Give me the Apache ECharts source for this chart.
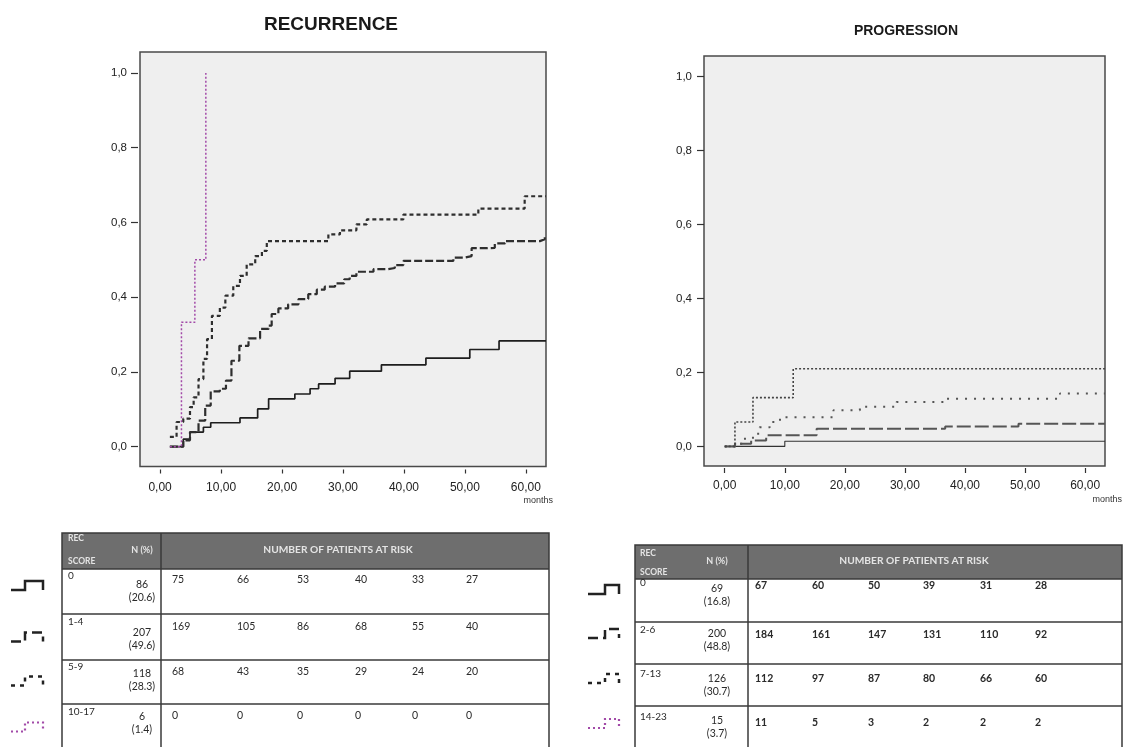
<!DOCTYPE html>
<html>
<head>
<meta charset="utf-8">
<script src="https://cdn.jsdelivr.net/npm/echarts@6/dist/echarts.min.js"></script>
<style>
html,body{margin:0;padding:0;background:#fff;}
#chart{width:1125px;height:747px;}
</style>
</head>
<body>
<div id="chart"></div>
<script>
// ---------------- DATA ----------------
const xTicks = [0, 10, 20, 30, 40, 50, 60];
const yTicks = [0, 0.2, 0.4, 0.6, 0.8, 1.0];

// Recurrence cumulative incidence [months, value]
const rec_score0 = [[1.6,0],[3.8,0.02],[4.9,0.039],[7.1,0.052],[8.3,0.064],[13.1,0.077],[16,0.101],[17.8,0.128],[22.1,0.141],[24.6,0.155],[26,0.168],[28.7,0.183],[31.1,0.202],[36.3,0.219],[43.6,0.237],[50.8,0.26],[55.6,0.283],[63.3,0.283]];
const rec_score1_4 = [[1.6,0],[3.8,0.017],[4.9,0.039],[6.3,0.07],[7.4,0.11],[8.3,0.148],[9.8,0.155],[10.8,0.177],[11.7,0.23],[13.0,0.27],[14.5,0.29],[16.4,0.315],[17.8,0.324],[18.3,0.355],[19.4,0.37],[21.0,0.381],[22.7,0.395],[24.3,0.408],[25.7,0.42],[27.0,0.428],[28.7,0.437],[30.2,0.448],[31.1,0.457],[32.2,0.468],[35.0,0.475],[37.4,0.478],[38.5,0.486],[39.9,0.497],[48.1,0.506],[50.0,0.51],[51.1,0.531],[53.6,0.532],[54.9,0.544],[56.6,0.55],[62.3,0.555],[63.1,0.564],[63.3,0.564]];
const rec_score5_9 = [[1.6,0.026],[2.7,0.066],[3.8,0.075],[4.9,0.106],[5.5,0.132],[6.3,0.181],[7.1,0.235],[7.7,0.288],[8.5,0.35],[9.8,0.372],[10.7,0.404],[12.0,0.43],[13.1,0.457],[14.2,0.488],[15.6,0.51],[16.7,0.524],[17.5,0.55],[27.6,0.568],[29.5,0.579],[32.2,0.595],[33.9,0.608],[39.9,0.621],[52.2,0.637],[59.8,0.67],[63.3,0.67]];
const rec_score10_17 = [[1.6,0],[3.5,0.333],[5.7,0.5],[7.5,1.0]];

// Progression cumulative incidence [months, value]
const prog_score0 = [[0,0],[10,0.014],[63.3,0.014]];
const prog_score2_6 = [[0,0],[1.7,0.007],[4.4,0.016],[6.9,0.03],[15.3,0.048],[36.7,0.054],[48.9,0.061],[63.3,0.061]];
const prog_score7_13 = [[0,0],[2.2,0.007],[3.1,0.021],[4.7,0.034],[5.8,0.052],[7.5,0.066],[9.2,0.079],[18.1,0.098],[22.5,0.107],[28.6,0.12],[36.7,0.129],[55.8,0.143],[63.3,0.143]];
const prog_score14_23 = [[0,0],[1.7,0.066],[4.7,0.132],[11.4,0.21],[63.3,0.21]];

// Tables
const recScores = ['0', '1-4', '5-9', '10-17'];
const recN = ['86', '207', '118', '6'];
const recPct = ['(20.6)', '(49.6)', '(28.3)', '(1.4)'];
const recAtRisk = [[75,66,53,40,33,27],[169,105,86,68,55,40],[68,43,35,29,24,20],[0,0,0,0,0,0]];

const progScores = ['0', '2-6', '7-13', '14-23'];
const progN = ['69', '200', '126', '15'];
const progPct = ['(16.8)', '(48.8)', '(30.7)', '(3.7)'];
const progAtRisk = [[67,60,50,39,31,28],[184,161,147,131,110,92],[112,97,87,80,66,60],[11,5,3,2,2,2]];

const titles = ['RECURRENCE', 'PROGRESSION'];
const headerTexts = ['REC', 'SCORE', 'N (%)', 'NUMBER OF PATIENTS AT RISK'];
const unitLabel = 'months';

// ---------------- STYLES / LAYOUT ----------------
const AX_FONT = 'Liberation Sans, Arial, sans-serif';
const TB_FONT = 'Lato, Carlito, sans-serif';
const PURPLE = '#a24aa8';

function xAxisCfg(gridIndex, min, offset, tickLen) {
  return {
    type: 'value', gridIndex, min, max: 63.3,
    axisLine: {show: false, onZero: false}, offset,
    axisTick: {show: true, length: tickLen, customValues: xTicks, lineStyle: {color: '#333', width: 1.2}},
    axisLabel: {customValues: xTicks, margin: 12, color: '#222', fontSize: 12, fontFamily: AX_FONT,
      formatter: v => v.toFixed(2).replace('.', ',')},
    splitLine: {show: false}
  };
}
function yAxisCfg(gridIndex, offset, margin) {
  return {
    type: 'value', gridIndex, min: -0.053, max: 1.056,
    axisLine: {show: false, onZero: false}, offset,
    axisTick: {show: true, length: 7, customValues: yTicks, lineStyle: {color: '#333', width: 1.2}},
    axisLabel: {customValues: yTicks, margin, color: '#222', fontSize: 11.5, fontFamily: AX_FONT,
      formatter: v => v.toFixed(1).replace('.', ',')},
    splitLine: {show: false}
  };
}
function stepSeries(name, data, idx, color, width, dash) {
  return {
    name, type: 'line', step: 'end', data, xAxisIndex: idx, yAxisIndex: idx,
    symbol: 'none', silent: true, animation: false,
    lineStyle: {color, width, type: dash}
  };
}

// ---------------- TABLES ----------------
function buildTable(L, scores, ns, pcts, atRisk, boldValues) {
  const els = [];
  els.push({type: 'rect', shape: {x: L.x0, y: L.hTop, width: L.x2 - L.x0, height: L.rows[0] - L.hTop},
    style: {fill: '#6e6e6e', stroke: null}});
  els.push({type: 'rect', shape: {x: L.x0, y: L.hTop, width: L.x2 - L.x0, height: 780 - L.hTop},
    style: {fill: null, stroke: '#3a3a3a', lineWidth: 1.5}});
  L.rows.forEach(y => els.push({type: 'line', shape: {x1: L.x0, y1: y, x2: L.x2, y2: y},
    style: {stroke: '#3a3a3a', lineWidth: 1.5}}));
  els.push({type: 'line', shape: {x1: L.x1, y1: L.hTop, x2: L.x1, y2: 780}, style: {stroke: '#3a3a3a', lineWidth: 1.5}});
  const hs = {fill: '#e4e4e4', font: 'bold 8.5px ' + TB_FONT, verticalAlign: 'middle'};
  els.push({type: 'text', style: Object.assign({}, hs, {text: headerTexts[0], x: L.recX, y: L.hRec, align: 'left'})});
  els.push({type: 'text', style: Object.assign({}, hs, {text: headerTexts[1], x: L.recX, y: L.hScore, align: 'left'})});
  els.push({type: 'text', style: Object.assign({}, hs, {text: headerTexts[2], x: L.nX, y: L.hN, align: 'center', font: 'bold 9px ' + TB_FONT})});
  els.push({type: 'text', style: Object.assign({}, hs, {text: headerTexts[3], x: L.hNumX, y: L.hNum, align: 'center', font: 'bold 10.2px ' + TB_FONT})});
  const bs = {fill: '#2a2a2a', font: '10px ' + TB_FONT, verticalAlign: 'middle'};
  const vs = {fill: '#2a2a2a', font: (boldValues ? 'bold ' : '') + '10.5px ' + TB_FONT, verticalAlign: 'middle', align: 'left'};
  for (let r = 0; r < 4; r++) {
    els.push({type: 'text', style: Object.assign({}, bs, {text: scores[r], x: L.recX, y: L.recY[r], align: 'left'})});
    els.push({type: 'text', style: Object.assign({}, bs, {text: ns[r], x: L.nX, y: L.nY1[r], align: 'center', font: '10.5px ' + TB_FONT})});
    els.push({type: 'text', style: Object.assign({}, bs, {text: pcts[r], x: L.nX, y: L.nY2[r], align: 'center', font: '10.5px ' + TB_FONT})});
    atRisk[r].forEach((v, c) => els.push({type: 'text', style: Object.assign({}, vs, {text: String(v), x: L.valX[c], y: L.valY[r]})}));
  }
  const iconStyles = [
    {stroke: '#222', lineDash: null, w: 2.5},
    {stroke: '#222', lineDash: [10, 5], w: 2.5},
    {stroke: '#222', lineDash: [4, 5], w: 2.5},
    {stroke: PURPLE, lineDash: [2, 3], w: 2.2}
  ];
  for (let r = 0; r < 4; r++) {
    const b = L.iconY[r], t = b - 9, [a, m, e] = L.iconX;
    const s = iconStyles[r];
    els.push({type: 'polyline', shape: {points: [[a, b], [m, b], [m, t], [e, t], [e, b]]},
      style: {stroke: s.stroke, lineWidth: s.w, lineDash: s.lineDash, fill: null}});
  }
  return els;
}

const leftLayout = {
  x0: 62, x1: 161, x2: 549, hTop: 533, rows: [569, 614, 660, 704],
  recX: 68, nX: 142, hRec: 538.5, hScore: 561, hN: 550, hNumX: 338, hNum: 550,
  valX: [172, 237, 297, 355, 412, 466],
  valY: [580, 626.5, 671.5, 716], recY: [576, 622, 666.5, 711.5],
  nY1: [584.5, 632.5, 674, 716.5], nY2: [598, 646, 687, 729.5],
  iconX: [11, 25, 43], iconY: [590, 641.5, 685.5, 731.5]
};
const rightLayout = {
  x0: 635, x1: 748, x2: 1122, hTop: 545, rows: [579, 622, 664, 706],
  recX: 640, nX: 717, hRec: 553, hScore: 572.5, hN: 561.5, hNumX: 914, hNum: 560.5,
  valX: [755, 812, 868, 923, 980, 1035],
  valY: [586, 635, 679, 722.5], recY: [583, 630, 674, 717],
  nY1: [589, 633.5, 678.5, 721], nY2: [601.5, 646.5, 691.5, 733.5],
  iconX: [588, 605, 619], iconY: [594, 638, 683, 728]
};

const graphics = [
  {type: 'text', style: {text: titles[0], x: 331, y: 25, align: 'center', verticalAlign: 'middle',
    font: 'bold 19px ' + AX_FONT, fill: '#1a1a1a'}},
  {type: 'text', style: {text: titles[1], x: 906, y: 31, align: 'center', verticalAlign: 'middle',
    font: 'bold 14px ' + AX_FONT, fill: '#1a1a1a'}},
  {type: 'text', style: {text: unitLabel, x: 553, y: 501, align: 'right', verticalAlign: 'middle',
    font: '9px ' + AX_FONT, fill: '#333'}},
  {type: 'text', style: {text: unitLabel, x: 1122, y: 500, align: 'right', verticalAlign: 'middle',
    font: '9px ' + AX_FONT, fill: '#333'}}
].concat(buildTable(leftLayout, recScores, recN, recPct, recAtRisk, false))
 .concat(buildTable(rightLayout, progScores, progN, progPct, progAtRisk, true));

const option = {
  backgroundColor: '#ffffff',
  animation: false,
  grid: [
    {left: 140, top: 52, width: 406, height: 414.5, show: true, backgroundColor: '#efefef', borderColor: '#4a4a4a', borderWidth: 1.5},
    {left: 704, top: 56, width: 401, height: 410, show: true, backgroundColor: '#efefef', borderColor: '#4a4a4a', borderWidth: 1.5}
  ],
  xAxis: [xAxisCfg(0, -3.3, 3, 4), xAxisCfg(1, -3.45, 2, 5)],
  yAxis: [yAxisCfg(0, 2, 11), yAxisCfg(1, 0, 12)],
  series: [
    stepSeries('0', rec_score0, 0, '#1e1e1e', 1.7, 'solid'),
    stepSeries('1-4', rec_score1_4, 0, '#2e2e2e', 2.2, [8, 3]),
    stepSeries('5-9', rec_score5_9, 0, '#2e2e2e', 2.2, [4, 3]),
    stepSeries('10-17', rec_score10_17, 0, PURPLE, 1.5, [2, 2]),
    stepSeries('0', prog_score0, 1, '#333', 1.1, 'solid'),
    stepSeries('2-6', prog_score2_6, 1, '#555', 2, [14, 4]),
    stepSeries('7-13', prog_score7_13, 1, '#555', 2, [2, 7]),
    stepSeries('14-23', prog_score14_23, 1, '#444', 1.6, [2, 2])
  ],
  graphic: graphics
};

const chart = echarts.init(document.getElementById('chart'), null, {renderer: 'canvas'});
chart.setOption(option);
</script>
</body>
</html>
